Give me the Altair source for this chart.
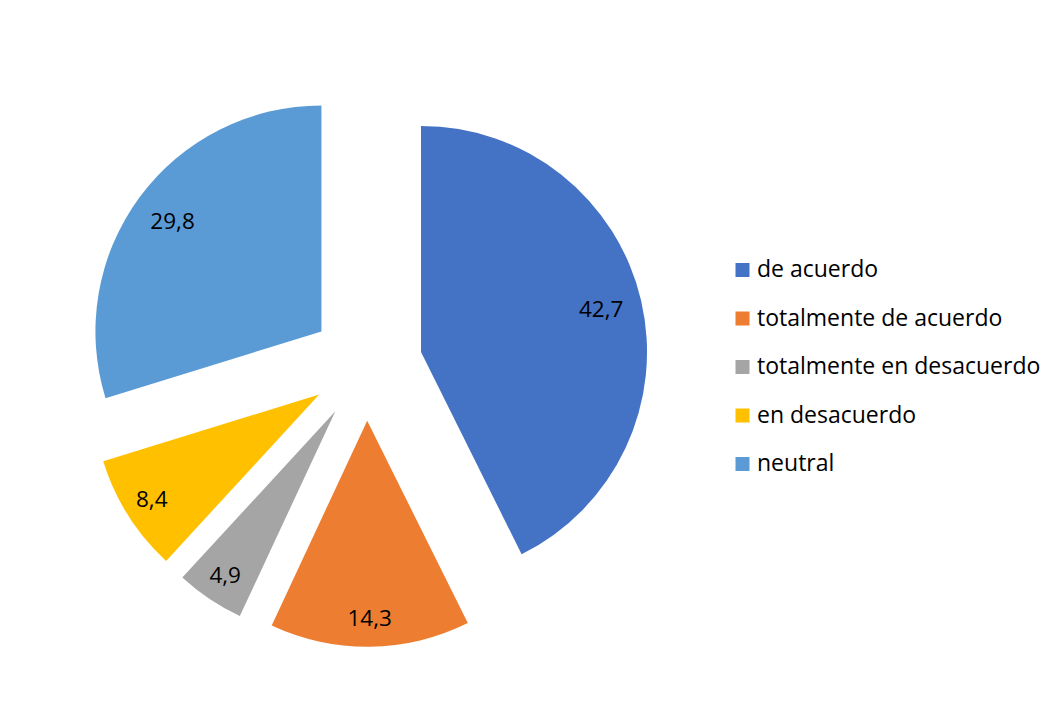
import altair as alt
import pandas as pd

categories = ["de acuerdo", "totalmente de acuerdo", "totalmente en desacuerdo", "en desacuerdo", "neutral"]
values = [42.7, 14.3, 4.9, 8.4, 29.8]
value_labels = ["42,7", "14,3", "4,9", "8,4", "29,8"]
colors = ["#4472C4", "#ED7D31", "#A5A5A5", "#FFC000", "#5B9BD5"]

df = pd.DataFrame({"cat": categories, "val": values, "lab": value_labels, "ord": list(range(len(categories)))})

CX, CY = 358.5, 356.7   # pie centre
R = 226                 # radius
D = 56                  # explosion distance
FONT = "Open Sans"

base = (
    alt.Chart(df)
    .transform_window(cum="sum(val)", sort=[alt.SortField("ord")], frame=[None, 0])
    .transform_joinaggregate(total="sum(val)")
    .transform_calculate(
        t1="2*PI*datum.cum/datum.total",
        t0="2*PI*(datum.cum-datum.val)/datum.total",
    )
    .transform_calculate(mid="(datum.t0+datum.t1)/2")
    .transform_calculate(
        ex=f"{CX}+{D}*sin(datum.mid)",
        ey=f"{CY}-{D}*cos(datum.mid)",
        lr="datum.val > 20 ? 185 : 198",
    )
    .transform_calculate(
        lx="datum.ex+datum.lr*sin(datum.mid)",
        ly="datum.ey-datum.lr*cos(datum.mid)",
    )
)

arcs = base.mark_arc(radius=R).encode(
    x=alt.X("ex:Q", scale=None, axis=None),
    y=alt.Y("ey:Q", scale=None, axis=None),
    theta=alt.Theta("t0:Q", scale=None, stack=None),
    theta2="t1:Q",
    color=alt.Color(
        "cat:N",
        scale=alt.Scale(domain=categories, range=colors),
        sort=categories,
        legend=alt.Legend(
            title=None,
            orient="none",
            legendX=723,
            legendY=250.5,
            symbolType="square",
            symbolSize=196,
            symbolStrokeWidth=0,
            labelFont=FONT,
            labelFontSize=23,
            labelColor="#000000",
            labelOffset=3,
            rowPadding=24.5,
            labelLimit=400,
        ),
    ),
)

texts = base.mark_text(fontSize=22.5, font=FONT, color="#000000", baseline="middle", align="center").encode(
    x=alt.X("lx:Q", scale=None, axis=None),
    y=alt.Y("ly:Q", scale=None, axis=None),
    text="lab:N",
)

chart = (
    alt.layer(arcs, texts)
    .properties(width=1045, height=705, autosize=alt.AutoSizeParams(type="none"), padding=0, background="#FFFFFF")
    .configure_view(stroke=None)
)

chart.save("out.html", embed_options={"renderer": "svg", "actions": False})
